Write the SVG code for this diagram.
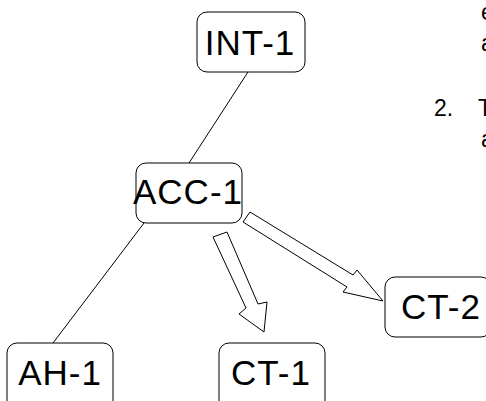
<svg xmlns="http://www.w3.org/2000/svg" width="486" height="401" viewBox="0 0 486 401">
<style>
.box{fill:#fff;stroke:#000;stroke-width:1}
.lbl{font-family:"Liberation Sans",Arial,sans-serif;font-size:35px;letter-spacing:1px;fill:#000;text-anchor:middle}
.note{font-family:"Liberation Sans",Arial,sans-serif;font-size:23px;fill:#000}
.edge{stroke:#000;stroke-width:1;fill:none}
.barrow{fill:#fff;stroke:#000;stroke-width:1;stroke-linejoin:miter}
</style>
<rect width="486" height="401" fill="#fff"/>
<g id="connectors">
<line class="edge" x1="248" y1="72" x2="189" y2="163"/>
<line class="edge" x1="144" y1="223" x2="53" y2="343"/>
<polygon class="barrow" points="213,237 246,308 239,314 264,332 267,302 258,304 227,232"/>
<polygon class="barrow" points="243,222 347,287 343,292 383,301 357,270 353,275 250,212"/>
</g>
<g id="INT-1"><rect class="box" x="197" y="12" width="108" height="60" rx="10"/><text class="lbl" x="250" y="55">INT-1</text></g>
<g id="ACC-1"><rect class="box" x="136" y="163" width="106" height="60" rx="10"/><text class="lbl" x="188" y="204">ACC-1</text></g>
<g id="AH-1"><rect class="box" x="7" y="343" width="106" height="70" rx="10"/><text class="lbl" x="60" y="385">AH-1</text></g>
<g id="CT-1"><rect class="box" x="219" y="343" width="106" height="70" rx="10"/><text class="lbl" x="271" y="385">CT-1</text></g>
<g id="CT-2"><rect class="box" x="385" y="277" width="106" height="60" rx="10"/><text class="lbl" x="441" y="319">CT-2</text></g>
<g id="notes">
<text class="note" x="481" y="20">e</text>
<text class="note" x="481" y="51">a</text>
<text class="note" x="434" y="116">2.</text>
<text class="note" x="478" y="116">T</text>
<text class="note" x="481" y="147">a</text>
</g>
</svg>
